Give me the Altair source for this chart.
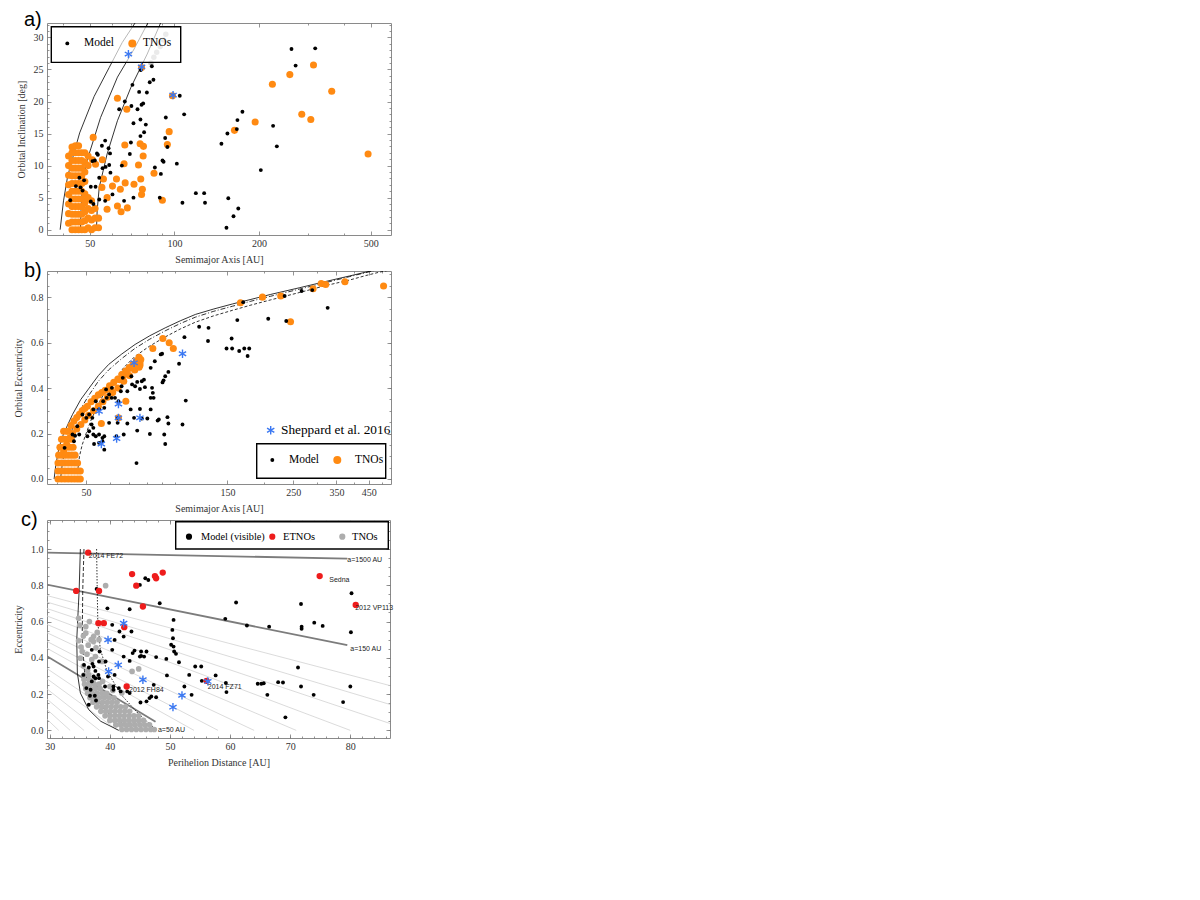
import altair as alt
import pandas as pd

SERIF = "Liberation Serif"
SANS = "Liberation Sans"
ORANGE = "#ff8a12"
BLUE = "#3b78f2"
RED = "#ee1c1c"
GRAY = "#adadad"
STAR = "M0,-1L0,1M-0.87,-0.5L0.87,0.5M-0.87,0.5L0.87,-0.5"

# ---------------- panel a: semimajor axis [AU] vs inclination [deg] ----------------
A_MODEL = [(261, 28.2), (317, 28.3), (270, 25.6), (83.1, 25.5), (75.9, 24.9), (70.9, 22.6), (84.2, 23.4),
           (81.7, 23.0), (66.6, 20.0), (63.6, 18.8), (70.3, 19.3), (74.9, 21.5), (79.8, 21.4), (77.4, 19.7),
           (76.4, 19.5), (73.9, 18.8), (104.5, 20.9), (108.3, 18.0), (93.2, 17.5), (71.5, 16.6), (75.7, 17.2),
           (79.1, 16.4), (78.0, 15.2), (75.7, 14.6), (70.0, 13.6), (56.7, 13.9), (55.2, 13.1), (58.3, 12.7),
           (59.0, 11.9), (53.0, 11.9), (53.4, 11.7), (69.4, 11.8), (92.7, 14.3), (94.4, 12.9), (52.1, 10.8),
           (51.1, 10.7), (58.6, 10.1), (56.9, 9.8), (55.5, 9.6), (65.0, 10.0), (90.7, 10.8), (91.5, 10.6),
           (85.2, 9.7), (102, 10.3), (89.5, 8.7), (59.2, 8.9), (54.0, 8.1), (45.9, 8.1), (47.7, 7.7),
           (44.6, 6.8), (46.3, 6.6), (47.1, 6.1), (50.4, 6.7), (52.4, 6.7), (60.2, 5.5), (71.5, 5.0),
           (42.6, 4.6), (50.4, 4.4), (51.5, 4.0), (54.0, 4.7), (56.7, 4.5), (66.2, 4.5), (88.7, 5.0),
           (119.2, 5.7), (127.6, 5.7), (106.8, 4.2), (128.5, 4.2), (155.5, 4.9), (168.8, 3.3), (162.3, 2.1),
           (153.2, 0.3), (147, 13.4), (154.4, 15.0), (166.8, 15.7), (167.6, 17.1), (174.6, 18.4), (203, 9.3),
           (224.5, 16.2), (231.5, 13.0)]
A_TNO = [(62.7, 20.5), (67.7, 18.8), (98.4, 20.9), (95.8, 15.3), (94.4, 13.3), (66.6, 13.2), (75.5, 13.4),
         (77.6, 13.0), (77.4, 11.5), (51.4, 14.4), (52.4, 10.2), (66.2, 10.3), (74.5, 10.1), (62.2, 7.9),
         (60.2, 6.8), (64.2, 6.3), (66.8, 7.3), (71.8, 7.1), (75.9, 7.9), (76.9, 6.3), (76.4, 5.5),
         (84.6, 8.8), (90.6, 4.6), (57.6, 5.0), (62.7, 3.7), (68.0, 3.4), (64.6, 2.8), (57.6, 3.2),
         (55.2, 6.6), (55.9, 7.9), (55.4, 10.9), (51.1, 10.9), (163.6, 15.5), (193.8, 16.8), (223.2, 22.7),
         (257.5, 24.2), (312.6, 25.7), (363, 21.6), (284, 18.0), (305.8, 17.2), (489, 11.8), (76.4, 25.3)]
A_TNO_CORE = [(42.0, 1), (42.0, 2.5), (42.0, 4), (42.0, 5.5), (42.0, 7), (42.0, 8.5), (42.0, 10), (42.0, 11.5),
              (43.2, 0), (43.2, 1.2), (43.2, 2.4), (43.2, 3.6), (43.2, 4.8), (43.2, 6), (43.2, 7.2), (43.2, 8.4),
              (43.2, 9.6), (43.2, 10.8), (43.2, 12), (43.2, 12.9),
              (44.4, 0), (44.4, 1.2), (44.4, 2.4), (44.4, 3.6), (44.4, 4.8), (44.4, 6), (44.4, 7.2), (44.4, 8.4),
              (44.4, 9.6), (44.4, 10.8), (44.4, 12), (44.4, 13.1),
              (45.6, 0), (45.6, 1.2), (45.6, 2.4), (45.6, 3.6), (45.6, 4.8), (45.6, 6), (45.6, 7.2), (45.6, 8.4),
              (45.6, 9.6), (45.6, 10.8), (45.6, 12), (45.6, 13.1),
              (46.8, 0), (46.8, 1.2), (46.8, 2.4), (46.8, 3.6), (46.8, 4.8), (46.8, 6), (46.8, 7.2), (46.8, 8.4),
              (46.8, 9.6), (46.8, 10.8), (46.8, 12),
              (48.0, 0), (48.0, 1.4), (48.0, 2.8), (48.0, 4.2), (48.0, 5.6), (48.0, 7.5), (48.0, 9), (48.0, 10.5), (48.0, 12),
              (49.3, 0.3), (49.3, 1.8), (49.3, 3.3), (49.3, 5), (49.3, 10), (49.3, 11.5),
              (50.7, 0), (50.7, 1.5), (50.7, 3), (50.7, 4.5),
              (52.2, 0.3), (52.2, 1.8), (52.2, 3.3),
              (53.7, 0.3), (53.7, 1.8)]
A_GRAY = [(93.2, 30.5), (91.5, 29.6), (89, 28.6), (86.5, 27.7), (84.5, 26.9), (82.5, 26.0)]
A_STAR = [(68.6, 27.4), (76.4, 25.4), (98.9, 21.0)]
A_CURVE_1 = [(39.2, 0), (40.3, 4.5), (41.6, 8.1), (42.8, 10.2), (46.0, 15.1), (51.8, 20.8), (58.6, 25.3), (65.2, 29.2), (73.3, 32.6)]
A_CURVE_2 = [(46.3, 0), (46.5, 3), (47.0, 6.6), (48.2, 9.5), (49.7, 11.8), (54.6, 17.5), (62.7, 23.8), (71.9, 28.2), (81.2, 32.6)]
A_CURVE_3 = [(52.8, 0), (53.1, 3), (54.0, 6.6), (57.6, 11.8), (62.7, 17.0), (70.0, 22.2), (80.0, 27.4), (88.0, 31.6), (90.0, 32.6)]
A_X_MAJOR = [50, 100, 200, 500]
A_X_MINOR = [40, 60, 70, 80, 90, 300, 400]
A_Y_MAJOR = [0, 5, 10, 15, 20, 25, 30]

# ---------------- panel b: semimajor axis [AU] vs eccentricity ----------------
B_MODEL = [(327, 0.753), (290, 0.831), (267, 0.827), (234, 0.805), (206, 0.705), (237, 0.695), (169.6, 0.778),
           (162, 0.699), (155, 0.618), (149, 0.574), (155.6, 0.574), (164.4, 0.563), (171, 0.574), (177.7, 0.574),
           (175.5, 0.541), (129.5, 0.665), (120.4, 0.670), (129, 0.607), (107.4, 0.624), (103, 0.507),
           (108.5, 0.345), (105.8, 0.240), (94.8, 0.471), (92.5, 0.452), (91.3, 0.434), (90.6, 0.425),
           (89.3, 0.548), (90.3, 0.551), (85.3, 0.518), (82.6, 0.489), (83.5, 0.401), (84, 0.379), (82.6, 0.357),
           (84.5, 0.357), (79, 0.404), (76, 0.396), (77.1, 0.43), (78.4, 0.437), (74.4, 0.427), (73.2, 0.408),
           (71.5, 0.416), (68.9, 0.386), (71.1, 0.452), (70.7, 0.306), (65.9, 0.408), (66.5, 0.445),
           (65.5, 0.386), (62.6, 0.357), (64.3, 0.342), (59.8, 0.372), (61, 0.357), (58.7, 0.357), (57.1, 0.342),
           (58.4, 0.394), (61.1, 0.401), (55.3, 0.306), (57.6, 0.313), (52.2, 0.240), (52.9, 0.225), (52.9, 0.196),
           (51.2, 0.21), (50.5, 0.188), (53.9, 0.188), (55.3, 0.196), (56.8, 0.181), (57.6, 0.188), (56.8, 0.166),
           (53.2, 0.154), (57.6, 0.129), (55.3, 0.159), (50.1, 0.269), (52.5, 0.269), (51.2, 0.284), (52.9, 0.306),
           (53.9, 0.342), (48.6, 0.284), (46.7, 0.232), (45.0, 0.196), (45.9, 0.19), (47.4, 0.196), (45.5, 0.166),
           (42.3, 0.137), (59.8, 0.247), (63.9, 0.247), (63.9, 0.269), (63.3, 0.188), (67.0, 0.196), (68.9, 0.244),
           (72.6, 0.269), (74.4, 0.213), (74, 0.070), (76, 0.308), (77.1, 0.266), (82.1, 0.198), (82.6, 0.306),
           (80.5, 0.266), (87.2, 0.257), (88, 0.262), (91.8, 0.196), (92.5, 0.154), (94.1, 0.272), (94.8, 0.244)]
B_TNO = [(505, 0.849), (374, 0.868), (322, 0.856), (311, 0.86), (292, 0.837), (227, 0.805), (197, 0.80),
         (166, 0.775), (245, 0.692), (90.8, 0.618), (95.4, 0.599), (98.5, 0.574), (84, 0.574), (76.5, 0.526),
         (76, 0.51), (75.5, 0.492), (69.9, 0.486), (68.1, 0.467), (66.5, 0.452), (64.9, 0.437), (68.1, 0.342),
         (64.3, 0.269), (56.3, 0.244), (60.6, 0.394)]
B_TNO_BAND = [(43.5, 0.21), (44.5, 0.235), (45.5, 0.255), (46.5, 0.27), (47.5, 0.285), (48.5, 0.30), (49.5, 0.31),
              (50.5, 0.32), (52, 0.34), (53.5, 0.355), (55, 0.37), (56.5, 0.38), (58, 0.39), (60, 0.41), (62, 0.425),
              (64, 0.44), (66, 0.46), (68, 0.475), (70, 0.49), (72, 0.505), (74, 0.52), (75.5, 0.535),
              (42, 0.12), (43, 0.15), (44, 0.18), (45, 0.2), (46.5, 0.22), (48, 0.24), (49.5, 0.26), (51, 0.28),
              (53, 0.30), (55, 0.32), (57, 0.34), (59, 0.36), (61.5, 0.38), (64, 0.40), (67, 0.43), (70, 0.455),
              (73, 0.48), (76, 0.50),
              (40.2, 0), (41.3, 0), (42.4, 0), (43.5, 0), (44.6, 0), (45.7, 0), (46.8, 0), (47.8, 0),
              (40.2, 0.035), (41.3, 0.035), (42.4, 0.035), (43.5, 0.035), (44.6, 0.035), (45.7, 0.035), (46.8, 0.035), (47.8, 0.035),
              (40.2, 0.07), (41.3, 0.07), (42.4, 0.07), (43.5, 0.07), (44.6, 0.07), (45.7, 0.07), (46.8, 0.07),
              (40.4, 0.105), (41.5, 0.105), (42.6, 0.105), (43.7, 0.105), (44.8, 0.105), (45.9, 0.105),
              (40.8, 0.14), (41.9, 0.14), (43.0, 0.14), (44.1, 0.14), (45.2, 0.14),
              (41.3, 0.175), (42.4, 0.175), (43.5, 0.175), (44.6, 0.175),
              (42.0, 0.21), (43.1, 0.21)]
B_STAR = [(72.6, 0.511), (105.8, 0.551), (64.3, 0.330), (64.3, 0.269), (55.3, 0.298), (76, 0.269), (56.3, 0.154), (63.4, 0.178)]
B_CURVE_SOLID = [(39.0, 0), (39.5, 0.06), (40.5, 0.137), (42, 0.2), (45, 0.284), (48, 0.35), (51.2, 0.40), (55, 0.455),
                 (59.6, 0.504), (66, 0.55), (73.2, 0.592), (82, 0.63), (92.5, 0.665), (104, 0.696), (117, 0.724),
                 (135, 0.748), (156, 0.770), (180, 0.79), (210, 0.812), (262, 0.841), (320, 0.868), (387, 0.893),
                 (440, 0.91), (489, 0.924), (535, 0.935)]
B_CURVE_DASH = [(41, 0), (41.5, 0.06), (42, 0.1), (43.5, 0.17), (45.5, 0.24), (48, 0.31), (51.2, 0.37), (55, 0.43),
                (59.6, 0.48), (66, 0.53), (73.2, 0.575), (82, 0.615), (92.5, 0.652), (104, 0.684), (117, 0.712),
                (135, 0.738), (156, 0.76), (180, 0.782), (210, 0.804), (262, 0.835), (320, 0.863), (387, 0.89),
                (440, 0.908), (489, 0.922), (535, 0.932)]
B_CURVE_DOT = [(46.5, 0), (47, 0.05), (47.5, 0.1), (48.5, 0.15), (50, 0.2), (52, 0.26), (55, 0.33), (58, 0.385),
               (62, 0.43), (67, 0.49), (73.2, 0.54), (82, 0.585), (92.5, 0.625), (104, 0.66), (117, 0.69),
               (135, 0.718), (156, 0.742), (180, 0.765), (210, 0.788), (262, 0.82), (320, 0.85), (387, 0.875),
               (440, 0.895), (489, 0.91), (535, 0.92)]
B_X_MAJOR = [50, 150, 250, 350, 450]
B_X_MINOR = [40, 60, 70, 80, 90, 100, 200, 300, 400, 500]
B_Y_MAJOR = [0.0, 0.2, 0.4, 0.6, 0.8]

# ---------------- panel c: perihelion distance [AU] vs eccentricity ----------------
C_MODEL = [(80.2, 0.756), (80.1, 0.541), (80.0, 0.242), (78.8, 0.156), (69.2, 0.072), (74.0, 0.594), (75.4, 0.576),
           (71.8, 0.697), (71.9, 0.572), (71.9, 0.56), (71.3, 0.347), (71.8, 0.242), (73.9, 0.196), (68.0, 0.266),
           (68.8, 0.264), (66.5, 0.572), (66.2, 0.196), (64.6, 0.257), (65.2, 0.257), (65.6, 0.26), (62.8, 0.578),
           (61.0, 0.705), (59.2, 0.615), (59.4, 0.211), (59.3, 0.261), (57.6, 0.303), (55.3, 0.273), (55.2, 0.352),
           (54.2, 0.352), (53.2, 0.306), (53.6, 0.196), (52.4, 0.242), (51.5, 0.376), (51.0, 0.422), (50.7, 0.435),
           (50.6, 0.462), (50.2, 0.472), (50.5, 0.508), (50.4, 0.554), (50.6, 0.609), (49.5, 0.303), (49.4, 0.394),
           (47.7, 0.404), (47.3, 0.251), (47.7, 0.183), (46.9, 0.187), (46.6, 0.178), (46.1, 0.16), (45.1, 0.154),
           (46.1, 0.435), (45.7, 0.407), (45.2, 0.411), (45.2, 0.435), (45.0, 0.407), (43.3, 0.383), (43.8, 0.426),
           (44.1, 0.44), (43.6, 0.545), (43.3, 0.668), (48.3, 0.701), (45.9, 0.839), (46.4, 0.829), (45.0, 0.802),
           (42.3, 0.517), (41.6, 0.545), (40.8, 0.499), (40.4, 0.582), (39.6, 0.673), (37.8, 0.78), (42.3, 0.407),
           (40.4, 0.444), (39.3, 0.38), (39.7, 0.297), (40.8, 0.306), (40.6, 0.242), (40.6, 0.224), (41.5, 0.233),
           (41.8, 0.215), (42.9, 0.215), (43.3, 0.206), (39.2, 0.242), (38.2, 0.288), (38.1, 0.306), (37.3, 0.297),
           (37.6, 0.288), (38.3, 0.435), (37.0, 0.444), (37.1, 0.367), (37.3, 0.352), (36.5, 0.347), (35.7, 0.361),
           (35.6, 0.306), (37.0, 0.27), (36.8, 0.224), (36.7, 0.191), (37.5, 0.191), (37.7, 0.165), (36.1, 0.233),
           (36.5, 0.141), (37.6, 0.328), (38.2, 0.38)]
C_ETNO = [(36.4, 0.98), (34.4, 0.769), (38.2, 0.769), (43.7, 0.862), (44.4, 0.798), (47.5, 0.851), (47.7, 0.839),
          (48.8, 0.870), (45.5, 0.683), (38.1, 0.591), (39.0, 0.591), (42.4, 0.569), (42.8, 0.242), (56.1, 0.273),
          (74.9, 0.851), (80.9, 0.692)]
C_TNO = [(39.3, 0.798), (34.8, 0.618), (36.0, 0.572), (34.8, 0.494), (36.0, 0.536), (37.3, 0.517), (37.3, 0.49),
         (37.6, 0.407), (38.7, 0.38), (35.4, 0.435), (35.1, 0.398), (44.8, 0.339), (43.7, 0.325), (42.0, 0.206),
         (40.0, 0.242), (35.2, 0.46), (35.6, 0.52), (36.4, 0.47), (36.9, 0.5), (37.7, 0.455), (38.2, 0.5),
         (36.2, 0.42), (37.0, 0.39), (35.0, 0.58), (36.6, 0.6), (37.9, 0.54), (35.6, 0.355), (36.3, 0.33),
         (38.8, 0.27), (39.3, 0.2), (40.5, 0.22)]
C_TNO_CORE = [(42.0, 0.005), (42.8, 0.005), (43.6, 0.005), (44.4, 0.005), (45.2, 0.005), (46.0, 0.005), (46.8, 0.005), (47.4, 0.005),
              (41.0, 0.03), (41.8, 0.03), (42.6, 0.03), (43.4, 0.03), (44.2, 0.03), (45.0, 0.03), (45.8, 0.03), (46.6, 0.03),
              (40.0, 0.055), (40.8, 0.055), (41.6, 0.055), (42.4, 0.055), (43.2, 0.055), (44.0, 0.055), (44.8, 0.055), (45.6, 0.055),
              (39.2, 0.08), (40.0, 0.08), (40.8, 0.08), (41.6, 0.08), (42.4, 0.08), (43.2, 0.08), (44.0, 0.08), (44.8, 0.08),
              (38.5, 0.105), (39.3, 0.105), (40.1, 0.105), (40.9, 0.105), (41.7, 0.105), (42.5, 0.105), (43.3, 0.105),
              (37.8, 0.13), (38.6, 0.13), (39.4, 0.13), (40.2, 0.13), (41.0, 0.13), (41.8, 0.13), (42.6, 0.13),
              (37.2, 0.155), (38.0, 0.155), (38.8, 0.155), (39.6, 0.155), (40.4, 0.155), (41.2, 0.155),
              (36.7, 0.18), (37.5, 0.18), (38.3, 0.18), (39.1, 0.18), (39.9, 0.18), (40.7, 0.18),
              (36.3, 0.205), (37.1, 0.205), (37.9, 0.205), (38.7, 0.205), (39.5, 0.205),
              (36.0, 0.23), (36.8, 0.23), (37.6, 0.23), (38.4, 0.23),
              (35.8, 0.255), (36.6, 0.255), (37.4, 0.255), (38.2, 0.255),
              (35.7, 0.28), (36.5, 0.28), (37.3, 0.28), (35.7, 0.305), (36.5, 0.305)]
C_STAR = [(42.3, 0.591), (39.7, 0.499), (41.4, 0.361), (39.8, 0.325), (45.5, 0.279), (52.0, 0.193), (50.5, 0.128), (56.3, 0.27)]
C_THICK = [(29.0, 0.981, 79.5, 0.947), (29.0, 0.807, 79.5, 0.47), (29.0, 0.42, 47.6, 0.048)]
C_THIN = [(29.0, 0.748, 86.6, 0.247), (29.0, 0.713, 86.6, 0.143), (29.0, 0.678, 86.6, 0.038), (29.0, 0.6375, 80.0, 0.0),
          (29.0, 0.592, 71.0, 0.0), (29.0, 0.547, 64.0, 0.0), (29.0, 0.5, 58.0, 0.0), (29.0, 0.463, 54.0, 0.0),
          (29.0, 0.353, 44.8, 0.0), (29.0, 0.298, 41.3, 0.0), (29.0, 0.243, 38.3, 0.0), (29.0, 0.188, 35.7, 0.0),
          (29.0, 0.132, 33.4, 0.0), (29.0, 0.079, 31.5, 0.0), (29.0, 0.024, 29.7, 0.0)]
C_CURVE_SOLID = [(35.1, 1.0), (34.9, 0.774), (34.5, 0.5), (34.6, 0.316), (35.1, 0.206), (36.5, 0.114), (38.5, 0.05), (41.5, 0.0)]
C_CURVE_DASH = [(35.7, 1.0), (35.5, 0.78), (35.4, 0.5), (35.8, 0.32), (37.0, 0.21), (39.5, 0.1), (42.0, 0.04), (44.5, 0.0)]
C_CURVE_DOT = [(37.8, 1.0), (37.9, 0.78), (38.0, 0.6), (38.4, 0.45), (39.5, 0.33), (41.8, 0.2), (44.8, 0.09), (47.5, 0.01)]
C_LABELS = [("2014 FE72", 36.5, 0.96), ("Sedna", 76.5, 0.83), ("2012 VP113", 80.8, 0.675), ("2012 FH84", 43.2, 0.225),
            ("2014 FZ71", 56.3, 0.238), ("a=1500 AU", 79.5, 0.942), ("a=150 AU", 80.0, 0.45), ("a=50 AU", 48.0, 0.0)]
C_X_MAJOR = [30, 40, 50, 60, 70, 80]
C_Y_MAJOR = [0.0, 0.2, 0.4, 0.6, 0.8, 1.0]


# ---------------- helpers ----------------
def xy(pairs):
    return pd.DataFrame(pairs, columns=["x", "y"])


def enc(xs, ys):
    return dict(x=alt.X("x:Q", scale=xs, axis=None), y=alt.Y("y:Q", scale=ys, axis=None))


def dots(pairs, xs, ys, color, size):
    return alt.Chart(xy(pairs)).mark_circle(color=color, size=size, opacity=1).encode(**enc(xs, ys))


def stars(pairs, xs, ys):
    return alt.Chart(xy(pairs)).mark_point(shape=STAR, filled=False, color=BLUE, strokeWidth=1.4,
                                           size=70, opacity=1).encode(**enc(xs, ys))


def curve(pairs, xs, ys, dash=None, color="black", width=0.8):
    df = xy(pairs)
    df["i"] = range(len(df))
    kw = dict(color=color, strokeWidth=width, clip=True)
    if dash:
        kw["strokeDash"] = dash
    return alt.Chart(df).mark_line(**kw).encode(order="i:Q", **enc(xs, ys))


def segs(rows, xs, ys, color, width):
    df = pd.DataFrame(rows, columns=["x", "y", "x2", "y2"])
    return alt.Chart(df).mark_rule(color=color, strokeWidth=width, clip=True).encode(
        x=alt.X("x:Q", scale=xs, axis=None), y=alt.Y("y:Q", scale=ys, axis=None),
        x2="x2:Q", y2="y2:Q")


ONE = pd.DataFrame({"d": [0]})


def ptext(txt, px, py, size=11, font=SERIF, align="left"):
    return alt.Chart(ONE).mark_text(text=txt, font=font, fontSize=size, align=align, baseline="middle",
                                    color="black").encode(x=alt.value(px), y=alt.value(py))


def pdot(px, py, color, size):
    return alt.Chart(ONE).mark_circle(color=color, size=size, opacity=1).encode(x=alt.value(px), y=alt.value(py))


def pstar(px, py):
    return alt.Chart(ONE).mark_point(shape=STAR, filled=False, color=BLUE, strokeWidth=1.4, size=70,
                                     opacity=1).encode(x=alt.value(px), y=alt.value(py))


def pbox(x1, y1, x2, y2, op):
    return alt.Chart(ONE).mark_rect(fill="white", fillOpacity=op, stroke="black", strokeWidth=1.4).encode(
        x=alt.value(x1), x2=alt.value(x2), y=alt.value(y1), y2=alt.value(y2))


def axis_layers(xs, ys, xmaj, xmin, ymaj, ymin, xfmt, yfmt, xtitle, ytitle, x0, y0):
    d = pd.DataFrame({"x": [x0], "y": [y0]})
    style = dict(domain=False, grid=False, tickColor="#7a7a7a", tickWidth=0.8)
    lab = dict(labelFont=SERIF, labelFontSize=10, labelColor="#333333", labelFlush=False, labelOverlap=False,
               titleFont=SERIF, titleFontSize=10, titleFontWeight="normal", titleColor="#333333")

    def ax(orient, values, size, fmt=None, title=None, pad=3, tpad=5):
        kw = dict(orient=orient, values=values, tickSize=size, offset=-size, **style)
        if fmt:
            kw.update(lab)
            kw.update(format=fmt, labelPadding=pad, titlePadding=tpad, title=title)
        else:
            kw.update(labels=False, title=None)
        return alt.Axis(**kw)

    specs = [
        (ax("bottom", xmaj, 4, xfmt, xtitle, 3, 6), ax("left", ymaj, 4, yfmt, ytitle, 4, 7)),
        (ax("bottom", xmin, 2), ax("left", ymin, 2)),
        (ax("top", xmaj, 4), ax("right", ymaj, 4)),
        (ax("top", xmin, 2), ax("right", ymin, 2)),
    ]
    return [alt.Chart(d).mark_point(opacity=0).encode(
        x=alt.X("x:Q", scale=xs, axis=axx), y=alt.Y("y:Q", scale=ys, axis=axy)) for axx, axy in specs]


def finish(layers, w, h):
    return alt.layer(*layers).resolve_axis(x="independent", y="independent").properties(width=w, height=h)


# ---------------- panel a ----------------
xa = alt.Scale(type="log", domain=[35.2, 590], nice=False)
ya = alt.Scale(domain=[-0.83, 32.25], nice=False, zero=False)
pa = finish([
    curve(A_CURVE_1, xa, ya), curve(A_CURVE_2, xa, ya), curve(A_CURVE_3, xa, ya),
    dots(A_GRAY, xa, ya, "#c4c4c4", 30),
    dots(A_TNO_CORE, xa, ya, ORANGE, 50),
    dots(A_TNO, xa, ya, ORANGE, 50),
    dots(A_MODEL, xa, ya, "black", 15),
    pbox(4.3, 3.7, 133.7, 39.4, 0.65),
    stars(A_STAR, xa, ya),
    pdot(20.3, 20.4, "black", 15), ptext("Model", 37, 20.4, 11.5),
    pdot(85.3, 20.4, ORANGE, 64), ptext("TNOs", 96, 20.4, 11.5),
    ptext("a)", -23, -3, 20, SANS),
] + axis_layers(xa, ya, A_X_MAJOR, A_X_MINOR, A_Y_MAJOR, [v for v in range(0, 33) if v % 5],
                "d", "d", "Semimajor Axis [AU]", "Orbital Inclination [deg]", 100, 10), 344, 212)

# ---------------- panel b ----------------
xb = alt.Scale(type="log", domain=[36.9, 535], nice=False)
yb = alt.Scale(domain=[-0.022, 0.915], nice=False, zero=False)
pb = finish([
    curve(B_CURVE_SOLID, xb, yb), curve(B_CURVE_DASH, xb, yb, [5, 2, 1, 2]), curve(B_CURVE_DOT, xb, yb, [3, 2]),
    dots(B_TNO_BAND, xb, yb, ORANGE, 50),
    dots(B_TNO, xb, yb, ORANGE, 50),
    dots(B_MODEL, xb, yb, "black", 15),
    stars(B_STAR, xb, yb),
    pbox(209.7, 172.7, 338.7, 207.3, 1),
    pdot(225.3, 189, "black", 15), ptext("Model", 242, 189, 11.5),
    pdot(290.3, 189, ORANGE, 64), ptext("TNOs", 308, 189, 11.5),
    pstar(223.7, 159.3),
    ptext("Sheppard et al. 2016", 234, 159.3, 13.3),
    ptext("b)", -23, 0, 20, SANS),
] + axis_layers(xb, yb, B_X_MAJOR, B_X_MINOR, B_Y_MAJOR, [round(0.05 * k, 2) for k in range(0, 19)],
                "d", ".1f", "Semimajor Axis [AU]", "Orbital Eccentricity", 100, 0.4), 344, 213)

# ---------------- panel c ----------------
xc = alt.Scale(domain=[29.55, 86.6], nice=False, zero=False)
yc = alt.Scale(domain=[-0.042, 1.16], nice=False, zero=False)
lab_df = pd.DataFrame(C_LABELS, columns=["t", "x", "y"])
pc = finish([
    segs(C_THIN, xc, yc, "#d2d2d2", 0.8),
    segs(C_THICK, xc, yc, "#7c7c7c", 1.8),
    curve(C_CURVE_SOLID, xc, yc), curve(C_CURVE_DASH, xc, yc, [4, 2]), curve(C_CURVE_DOT, xc, yc, [1.5, 1.5]),
    dots(C_TNO_CORE, xc, yc, GRAY, 32),
    dots(C_TNO, xc, yc, GRAY, 32),
    dots(C_MODEL, xc, yc, "black", 15),
    dots(C_ETNO, xc, yc, RED, 40),
    stars(C_STAR, xc, yc),
    alt.Chart(lab_df).mark_text(font=SANS, fontSize=7, align="left", baseline="middle", color="#222").encode(
        x=alt.X("x:Q", scale=xc, axis=None), y=alt.Y("y:Q", scale=yc, axis=None), text="t:N"),
    pbox(128.7, 1.7, 341.3, 29, 1),
    pdot(142, 16.7, "black", 38), ptext("Model (visible)", 154, 16.7, 10.3),
    pdot(225.3, 16.7, RED, 38), ptext("ETNOs", 236, 16.7, 10.5),
    pdot(295.3, 16.7, GRAY, 38), ptext("TNOs", 305, 16.7, 10.5),
    ptext("c)", -26, 0, 20, SANS),
] + axis_layers(xc, yc, C_X_MAJOR, list(range(30, 87, 2)), C_Y_MAJOR, [round(0.05 * k, 2) for k in range(0, 24)],
                "d", ".1f", "Perihelion Distance [AU]", "Eccentricity", 50, 0.5), 343, 218)

chart = alt.vconcat(pa, pb, pc, spacing=36, bounds="flush").resolve_scale(
    x="independent", y="independent").configure_view(stroke="#8a8a8a", strokeWidth=1).properties(
    background="white", padding={"left": 5, "top": 1, "right": 5, "bottom": 5})

chart.save("out.html", embed_options={"renderer": "svg", "actions": False})
